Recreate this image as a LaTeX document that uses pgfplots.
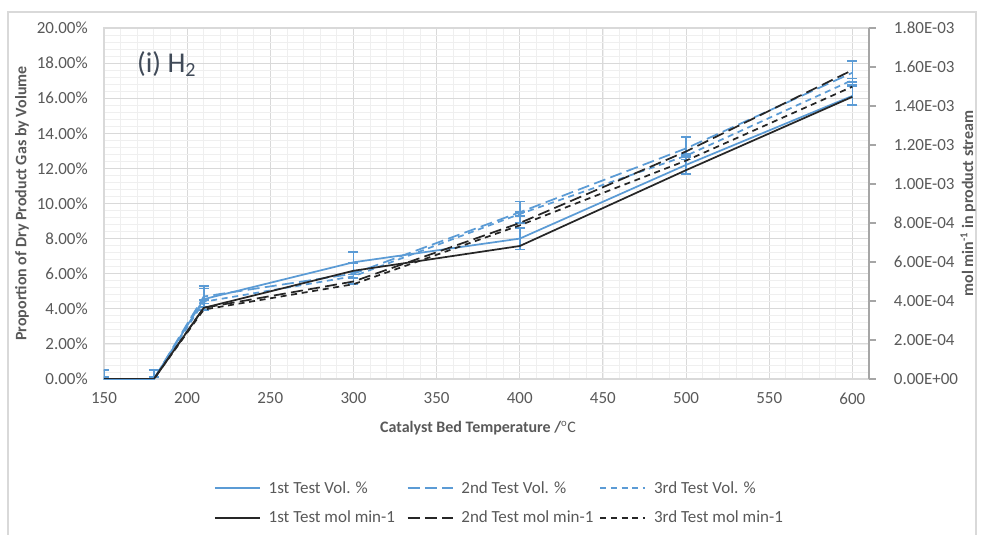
\documentclass[border=0pt]{standalone}
\usepackage{pgfplots}
\pgfplotsset{compat=1.18}
\usepackage{pgfplotstable}
\usepackage{fontspec}
\setmainfont{Carlito}
\definecolor{xblue}{HTML}{5B9BD5}
\definecolor{xblack}{HTML}{262626}
\definecolor{xtext}{HTML}{595959}
\definecolor{xgrid}{HTML}{D9D9D9}
\definecolor{xminor}{HTML}{EFEFEF}
\definecolor{xaxis}{HTML}{A6A6A6}
\definecolor{xtitle}{HTML}{404A58}
\definecolor{xframe}{HTML}{D9D9D9}

\pgfplotstableread{
x y e
150 0 0.5
180 0 0.5
210 4.55 0.6
300 6.65 0.57
400 8.0 0.62
500 12.2 0.5
600 16.13 0.53
}\tVolA
\pgfplotstableread{
x y e
150 0 0.5
180 0 0.5
210 4.7 0.6
300 6.0 0.6
400 9.5 0.62
500 13.14 0.63
600 17.45 0.69
}\tVolB
\pgfplotstableread{
x y e
150 0 0.1
180 0 0.1
210 4.4 0.1
300 5.85 0.1
400 9.4 0.1
500 12.72 0.1
600 17.03 0.1
}\tVolC
\pgfplotstableread{
x y
150 0
180 0
210 0.000365
300 0.000555
400 0.000682
500 0.001071
600 0.001447
}\tMolA
\pgfplotstableread{
x y
150 0
180 0
210 0.000365
300 0.000500
400 0.000800
500 0.001167
600 0.001584
}\tMolB
\pgfplotstableread{
x y
150 0
180 0
210 0.000356
300 0.000486
400 0.000788
500 0.001120
600 0.001499
}\tMolC

\pgfplotsset{
  sVolA/.style={color=xblue, line width=1.3pt, solid},
  sVolB/.style={color=xblue, line width=1.3pt, dash pattern=on 9pt off 4pt},
  sVolC/.style={color=xblue, line width=1.3pt, dash pattern=on 4.5pt off 3.5pt},
  sMolA/.style={color=xblack, line width=1.3pt, solid},
  sMolB/.style={color=xblack, line width=1.3pt, dash pattern=on 9pt off 4pt},
  sMolC/.style={color=xblack, line width=1.3pt, dash pattern=on 4.5pt off 3.5pt},
  sErr/.style={
    error bars/y dir=both, error bars/y explicit,
    error bars/error bar style={xblue, line width=1.3pt, solid},
    error bars/error mark options={xblue, rotate=90, mark size=3.75pt, line width=1.3pt, solid}},
}

\begin{document}
\begin{tikzpicture}
\useasboundingbox (-78pt,-117pt) rectangle (657.75pt,284.25pt);
\draw[xframe, line width=0.8pt] (-72pt,-130pt) rectangle (654pt,275.25pt);

\begin{axis}[
  at={(0pt,0pt)}, anchor=south west,
  width=573.75pt, height=263.25pt, scale only axis,
  xmin=150, xmax=610, ymin=0, ymax=20,
  xtick={150,200,...,600},
  ytick={0,2,...,20},
  minor xtick={160,170,...,600},
  minor ytick={0.4,0.8,...,19.6},
  grid=both,
  major grid style={xgrid, line width=0.8pt},
  minor grid style={xminor, line width=0.6pt},
  axis line style={xgrid, line width=0.8pt},
  tick style={draw=none},
  /pgf/number format/assume math mode=true,
  ticklabel style={font=\fontsize{12.75}{15}\selectfont, text=xtext},
  yticklabel={\pgfmathprintnumber[fixed,fixed zerofill,precision=2]{\tick}\%},
  yticklabel style={anchor=east, inner sep=0pt, xshift=-12pt},
  xticklabel style={anchor=north, inner sep=0pt, yshift=-10pt},
  xlabel={Catalyst Bed Temperature /$^{\mathrm{o}}\mathrm{C}$},
  ylabel={Proportion of Dry Product Gas by Volume},
  label style={font=\bfseries\fontsize{12}{14}\selectfont, text=xtext},
  xlabel style={at={(axis description cs:0.489,0)}, anchor=center, yshift=-36.75pt},
  ylabel style={at={(axis description cs:-0.1072,0.5)}, anchor=center},
  legend columns=3,
  legend cell align=left,
  legend image code/.code={\draw[#1] (0pt,0pt) -- (33.75pt,0pt);},
  legend style={at={(axis description cs:0.5216,-0.2906)}, anchor=north,
    draw=none, fill=none, inner sep=0pt, nodes={inner sep=0pt},
    font=\fontsize{12.75}{15}\selectfont, text=xtext, row sep=12pt,
    /tikz/every odd column/.append style={column sep=6pt}},
]
\addplot[sVolA, sErr] table[x=x, y=y, y error=e] {\tVolA};
\addlegendentry{\makebox[103.5pt][l]{1st Test Vol. \%}}
\addplot[sVolB, sErr] table[x=x, y=y, y error=e] {\tVolB};
\addlegendentry{\makebox[103.5pt][l]{2nd Test Vol. \%}}
\addplot[sVolC, sErr] table[x=x, y=y, y error=e] {\tVolC};
\addlegendentry{\makebox[103.5pt][l]{3rd Test Vol. \%}}
\addlegendimage{sMolA}
\addlegendentry{\makebox[103.5pt][l]{1st Test mol min-1}}
\addlegendimage{sMolB}
\addlegendentry{\makebox[103.5pt][l]{2nd Test mol min-1}}
\addlegendimage{sMolC}
\addlegendentry{\makebox[103.5pt][l]{3rd Test mol min-1}}
\node[anchor=west, font=\fontsize{21.5}{25}\selectfont, text=xtitle, inner sep=0pt]
  at (rel axis cs:0.043,0.897) {(i) H\textsubscript{2}};
\end{axis}

\begin{axis}[
  at={(0pt,0pt)}, anchor=south west,
  width=573.75pt, height=263.25pt, scale only axis,
  xmin=150, xmax=610, ymin=0, ymax=0.0018,
  axis x line=none,
  axis y line*=right,
  axis line style={xaxis, line width=0.8pt},
  ytick={0,0.0002,0.0004,0.0006,0.0008,0.001,0.0012,0.0014,0.0016,0.0018},
  yticklabels={0.00E+00,2.00E-04,4.00E-04,6.00E-04,8.00E-04,1.00E-03,1.20E-03,1.40E-03,1.60E-03,1.80E-03},
  scaled y ticks=false,
  tick align=outside, major tick length=5pt,
  tick style={xaxis, line width=0.8pt},
  ticklabel style={font=\fontsize{12.75}{15}\selectfont, text=xtext},
  yticklabel style={anchor=west, inner sep=0pt, xshift=13.5pt},
  ylabel={mol min\textsuperscript{-1} in product stream},
  label style={font=\bfseries\fontsize{12}{14}\selectfont, text=xtext},
  ylabel style={at={(axis description cs:1.1294,0.5)}, anchor=center},
]
\addplot[sMolA] table[x=x, y=y] {\tMolA};
\addplot[sMolB] table[x=x, y=y] {\tMolB};
\addplot[sMolC] table[x=x, y=y] {\tMolC};
\end{axis}
\end{tikzpicture}
\end{document}
